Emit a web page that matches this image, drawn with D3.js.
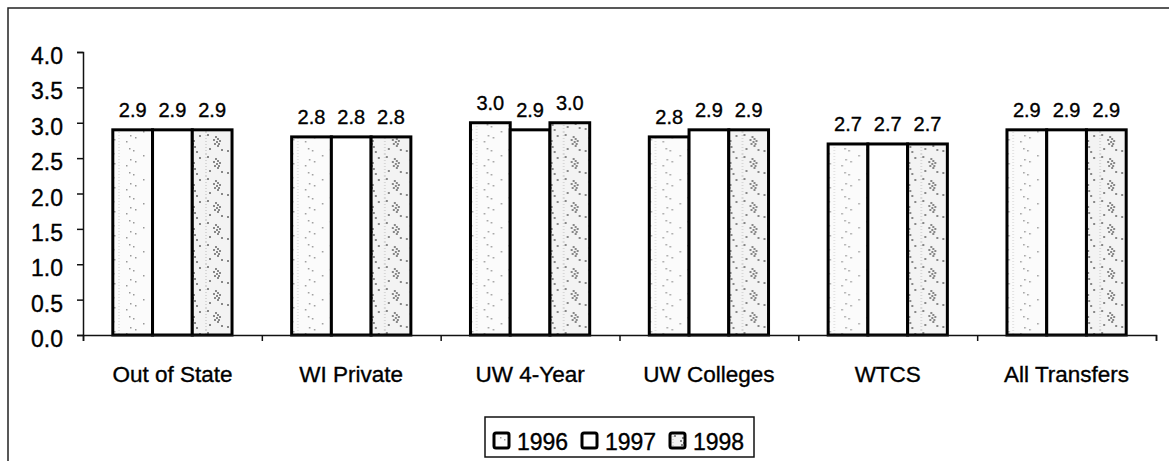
<!DOCTYPE html>
<html>
<head>
<meta charset="utf-8">
<script src="https://cdn.jsdelivr.net/npm/d3@7"></script>
<style>
  body { margin: 0; background: #fff; }
  svg { display: block; font-family: "Liberation Sans", Arial, sans-serif; }
  svg text { stroke: #000; stroke-width: 0.35px; }
</style>
</head>
<body>
<svg width="1169" height="461"></svg>
<script>
const categories = ["Out of State", "WI Private", "UW 4-Year", "UW Colleges", "WTCS", "All Transfers"];
const years = ["1996", "1997", "1998"];
const v1996 = [2.9, 2.8, 3.0, 2.8, 2.7, 2.9];
const v1997 = [2.9, 2.8, 2.9, 2.9, 2.7, 2.9];
const v1998 = [2.9, 2.8, 3.0, 2.9, 2.7, 2.9];
const yTicks = [0, 0.5, 1, 1.5, 2, 2.5, 3, 3.5, 4];

const series = { "1996": v1996, "1997": v1997, "1998": v1998 };

const svg = d3.select('svg');
const width = +svg.attr('width');
const height = +svg.attr('height');

const margin = { top: 52, left: 83, right: 13, bottom: 126 };
const plotBottom = height - margin.bottom;

// patterns for the scanned dotted fills
const defs = svg.append('defs');
const p96 = defs.append('pattern').attr('id', 'p1996')
  .attr('patternUnits', 'userSpaceOnUse').attr('width', 40).attr('height', 24);
p96.append('rect').attr('width', 40).attr('height', 24).attr('fill', '#fbfbfb');
[[6, 4], [10, 6], [28, 5], [30, 9], [7, 15], [12, 17], [29, 16], [31, 19], [20, 11], [3, 21]]
  .forEach(d => p96.append('rect').attr('x', d[0]).attr('y', d[1]).attr('width', 1.5).attr('height', 1.5).attr('fill', '#999'));
p96.append('line').attr('x1', 36).attr('x2', 36).attr('y1', 0).attr('y2', 24)
  .attr('stroke', '#ccc').attr('stroke-dasharray', '1,2');

const p98 = defs.append('pattern').attr('id', 'p1998')
  .attr('patternUnits', 'userSpaceOnUse').attr('width', 40).attr('height', 22);
p98.append('rect').attr('width', 40).attr('height', 22).attr('fill', '#f3f3f3');
[[12, 4], [14, 6], [10, 7], [16, 8], [13, 9], [15, 11], [11, 11], [14, 13], [28, 5], [30, 8], [29, 11], [31, 14],
 [6, 16], [18, 17], [24, 18], [33, 19], [4, 2], [36, 3]]
  .forEach(d => p98.append('rect').attr('x', d[0]).attr('y', d[1]).attr('width', 2).attr('height', 2).attr('fill', '#888'));
p98.append('line').attr('x1', 3).attr('x2', 3).attr('y1', 0).attr('y2', 22)
  .attr('stroke', '#bbb').attr('stroke-dasharray', '1,2');

const fills = { "1996": 'url(#p1996)', "1997": '#fff', "1998": 'url(#p1998)' };

// outer frame (runs past the right and bottom edges)
svg.append('rect')
  .attr('x', 8).attr('y', 8)
  .attr('width', 1300).attr('height', 600)
  .attr('fill', 'none').attr('stroke', '#222').attr('stroke-width', 1.5);

const x0 = d3.scaleBand()
  .domain(categories)
  .range([margin.left, width - margin.right])
  .padding(0);

const x1 = d3.scaleBand()
  .domain(years)
  .range([0, x0.bandwidth()])
  .paddingInner(0)
  .paddingOuter(0.75);

const y = d3.scaleLinear()
  .domain([0, 4])
  .range([plotBottom, margin.top]);

// y axis
const yAxis = d3.axisLeft(y)
  .tickValues(yTicks)
  .tickFormat(d3.format('.1f'))
  .tickSize(6)
  .tickPadding(14);
const yag = svg.append('g')
  .attr('transform', `translate(${margin.left},0)`)
  .call(yAxis);
yag.select('.domain').attr('stroke', '#111').attr('stroke-width', 1.5);
yag.selectAll('.tick line').attr('stroke', '#111').attr('stroke-width', 1.5);
yag.selectAll('.tick text')
  .attr('font-size', 23).attr('fill', '#000').attr('dy', '0.5em')
  .attr('font-family', '"Liberation Sans", Arial, sans-serif');

// bars
const groups = svg.append('g').selectAll('g')
  .data(categories)
  .join('g')
  .attr('transform', d => `translate(${x0(d)},0)`);

groups.selectAll('rect')
  .data((c, i) => years.map(yr => ({ yr, v: series[yr][i] })))
  .join('rect')
  .attr('x', d => x1(d.yr))
  .attr('y', d => y(d.v))
  .attr('width', x1.bandwidth())
  .attr('height', d => plotBottom - y(d.v))
  .attr('fill', d => fills[d.yr])
  .attr('stroke', '#000')
  .attr('stroke-width', 3);

groups.selectAll('text.val')
  .data((c, i) => years.map(yr => ({ yr, v: series[yr][i] })))
  .join('text')
  .attr('class', 'val')
  .attr('x', d => x1(d.yr) + x1.bandwidth() / 2)
  .attr('y', d => y(d.v) - 13)
  .attr('text-anchor', 'middle')
  .attr('font-size', 20)
  .text(d => d.v.toFixed(1));

// x axis: boundary ticks + category labels
const xb = d3.scaleLinear().domain([0, categories.length]).range(x0.range());
const xag = svg.append('g')
  .attr('transform', `translate(0,${plotBottom})`)
  .call(d3.axisBottom(xb).ticks(categories.length).tickFormat('').tickSize(6));
xag.select('.domain').attr('stroke', '#111').attr('stroke-width', 1.5);
xag.selectAll('.tick line').attr('stroke', '#111').attr('stroke-width', 1.5);

const xlab = svg.append('g')
  .attr('transform', `translate(0,${plotBottom})`)
  .call(d3.axisBottom(x0).tickSize(0).tickPadding(31));
xlab.select('.domain').remove();
xlab.selectAll('text')
  .attr('font-size', 22.5).attr('fill', '#000')
  .attr('font-family', '"Liberation Sans", Arial, sans-serif');

// legend
const legend = svg.append('g').attr('transform', 'translate(485,417)');
legend.append('rect')
  .attr('width', 269).attr('height', 40)
  .attr('fill', '#fff').attr('stroke', '#111').attr('stroke-width', 1.5);
const items = legend.selectAll('g.item')
  .data(years)
  .join('g')
  .attr('class', 'item')
  .attr('transform', (d, i) => `translate(${9 + i * 88},16)`);
items.append('rect')
  .attr('width', 15).attr('height', 15).attr('rx', 2)
  .attr('fill', d => fills[d])
  .attr('stroke', '#000').attr('stroke-width', 3);
items.append('text')
  .attr('x', 23).attr('y', 17)
  .attr('font-size', 23)
  .text(d => d);
</script>
</body>
</html>
